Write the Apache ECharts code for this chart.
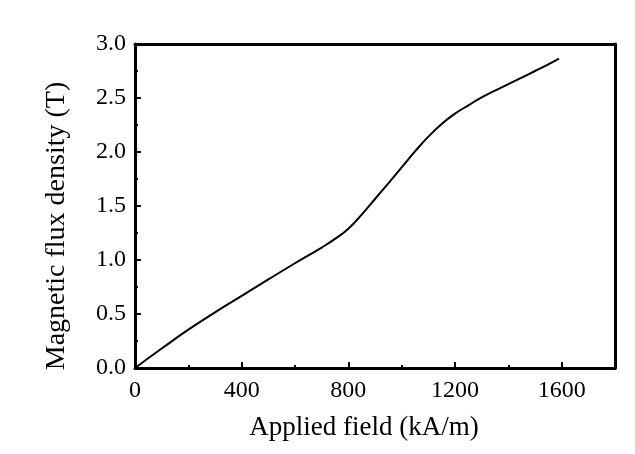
<!DOCTYPE html>
<html>
<head>
<meta charset="utf-8">
<script src="https://cdn.jsdelivr.net/npm/echarts@6/dist/echarts.min.js"></script>
<style>html,body{margin:0;padding:0;background:#fff}#c{width:635px;height:454px}</style>
</head>
<body>
<div id="c"></div>
<script>
var fieldH = [0, 100, 200, 300, 400, 500, 600, 700, 750, 800, 850, 900, 950, 1000, 1050, 1100, 1150, 1200, 1250, 1300, 1350, 1400, 1450, 1500, 1550, 1590];
var fluxB = [0, 0.18, 0.355, 0.515, 0.667, 0.82, 0.97, 1.115, 1.195, 1.29, 1.42, 1.565, 1.71, 1.857, 2.005, 2.142, 2.26, 2.355, 2.432, 2.505, 2.568, 2.628, 2.689, 2.75, 2.812, 2.865];
var xTicks = [0, 400, 800, 1200, 1600];
var yTicks = [0.0, 0.5, 1.0, 1.5, 2.0, 2.5, 3.0];

var font = '"Liberation Serif", "Times New Roman", serif';
var chart = echarts.init(document.getElementById('c'));
var data = fieldH.map(function (h, i) { return [h, fluxB[i]]; });
var axisLine = { show: true, onZero: false, lineStyle: { color: '#000', width: 3 } };
chart.setOption({
  animation: false,
  grid: { left: 135, right: 20, top: 44, bottom: 86 },
  xAxis: [{
    type: 'value', min: 0, max: 1800, interval: 400,
    name: 'Applied field (kA/m)', nameLocation: 'middle', nameGap: 46,
    nameTextStyle: { fontFamily: font, fontSize: 27, color: '#000', padding: [0, 22, 0, 0] },
    axisLine: axisLine,
    axisTick: { inside: true, length: 6, lineStyle: { width: 2, color: '#000' } },
    minorTick: { show: true, splitNumber: 2, length: 3, lineStyle: { width: 2, color: '#000' } },
    splitLine: { show: false },
    axisLabel: { fontFamily: font, fontSize: 24, color: '#000', margin: 11,
      formatter: function (v) { return xTicks.indexOf(v) >= 0 ? String(v) : ''; } }
  }, {
    type: 'value', position: 'top', min: 0, max: 1800,
    axisLine: axisLine, axisTick: { show: false }, axisLabel: { show: false }, splitLine: { show: false }
  }],
  yAxis: [{
    type: 'value', min: 0, max: 3, interval: 0.5,
    name: 'Magnetic flux density (T)', nameLocation: 'middle', nameGap: 64,
    nameTextStyle: { fontFamily: font, fontSize: 28, color: '#000', padding: [0, 40, 0, 0] },
    axisLine: axisLine,
    axisTick: { inside: true, length: 6, lineStyle: { width: 2, color: '#000' } },
    minorTick: { show: true, splitNumber: 2, length: 3, lineStyle: { width: 2, color: '#000' } },
    splitLine: { show: false },
    axisLabel: { fontFamily: font, fontSize: 24, color: '#000', margin: 9,
      formatter: function (v) { return v.toFixed(1); } }
  }, {
    type: 'value', position: 'right', min: 0, max: 3,
    axisLine: axisLine, axisTick: { show: false }, axisLabel: { show: false }, splitLine: { show: false }
  }],
  series: [{
    type: 'line', data: data, smooth: 0.5, showSymbol: false,
    lineStyle: { color: '#000', width: 2 }
  }]
});
</script>
</body>
</html>
